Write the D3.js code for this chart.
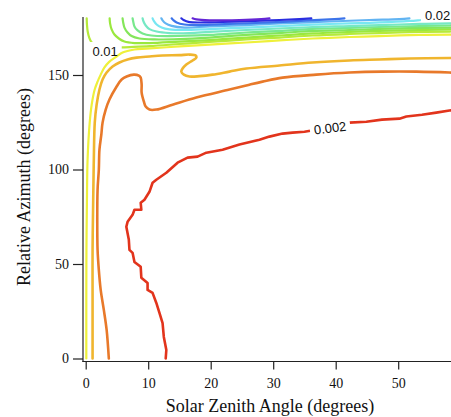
<!DOCTYPE html>
<html>
<head>
<meta charset="utf-8">
<script src="https://cdn.jsdelivr.net/npm/d3@7"></script>
<style>
  body { margin: 0; background: #fff; }
  svg { display: block; }
</style>
</head>
<body>
<svg id="chart" width="451" height="417"></svg>
<script>
// Contour levels of the field over (solar zenith angle, relative azimuth)
const levels = [0.002, 0.004, 0.006, 0.008, 0.010, 0.012, 0.014,
                0.016, 0.018, 0.020, 0.022, 0.024, 0.026, 0.028];

// Each contour as [solar zenith angle (deg), relative azimuth (deg)] pairs
const c002 = [[12.8,0],[12.9,4.5],[12.5,11.4],[12.3,18.7],[11.8,24.1],[11.3,29.4],
  [10.7,34.7],[9.9,36.3],[9.9,40.0],[8.9,42.7],[8.8,48.5],[7.8,51.1],[7.5,55.9],
  [7.0,57.5],[6.9,62.8],[6.5,69.7],[6.7,72.3],[7.5,76.0],[7.8,78.7],[8.9,78.7],
  [8.8,82.4],[9.4,84.0],[10.2,88.2],[10.7,93.0],[11.3,94.6],[12.9,98.3],[14.7,103.6],
  [16.3,106.3],[17.9,106.8],[19.3,108.9],[21.9,110.5],[24.6,113.2],[27.8,115.8],
  [29.4,117.4],[31.5,119.0],[33.1,119.5],[35.0,120.0],[38.5,122.0],[42.2,124.8],
  [44.9,125.3],[47.4,126.4],[50.2,126.9],[51.3,128.0],[53.8,129.0],[56.1,130.1],
  [58.2,131.2],[60,132.0]];
const c004 = [[3.7,0],[3.35,15.1],[2.9,25.7],[2.4,36.3],[2.1,46.9],[1.9,57.5],
  [1.85,73.4],[1.9,89.3],[2.1,99.9],[2.2,110.5],[2.5,118.4],[2.7,124.8],[3.2,131.7],
  [3.8,137.0],[4.95,143.9],[5.75,147.6],[6.55,149.2],[7.7,150.2],[8.5,149.7],
  [8.8,148.6],[8.95,144.9],[8.95,140.7],[9.3,136.0],[9.6,133.3],[10.2,131.7],
  [11.3,131.7],[13.9,134.3],[17.7,138.1],[23.0,142.3],[26.2,144.9],[28.3,146.5],
  [31.5,148.6],[36.9,150.2],[42.2,151.3],[47.4,151.8],[52.9,151.8],[58.2,151.3],[60,151.0]];
const c006 = [[1.1,0],[1.1,31.0],[1.1,57.5],[1.2,84.0],[1.3,105.2],[1.45,124.8],
  [1.75,134.3],[2.2,142.3],[2.7,147.6],[3.35,151.3],[4.3,154.5],[5.4,156.6],
  [6.7,158.2],[8.15,159.2],[10.2,159.8],[12.3,160.3],[15.0,160.5],[16.6,160.8],
  [17.6,160.3],[17.7,159.2],[17.1,157.7],[16.1,155.5],[15.5,153.4],[15.3,151.8],
  [15.7,150.2],[16.6,149.2],[18.2,149.4],[20.3,150.2],[23.0,151.8],[25.7,153.4],
  [31.0,155.0],[36.3,156.6],[42.2,157.7],[47.0,158.2],[51.8,158.7],[58.2,159.0],[60,159.0]];
const c008 = [[0.1,0],[0.1,31],[0.12,57.5],[0.2,84],[0.3,105.2],[0.64,124.8],
  [0.96,134.3],[1.44,142.3],[1.9,146.5],[2.4,150.2],[3.0,154.0],[3.8,157.1],
  [4.95,159.8],[5.9,161.9],[7.8,163.5],[9.7,164.0],[15.0,165.1],[19.8,166.1],
  [25.7,167.2],[31.0,168.3],[36.3,169.3],[42.2,170.1],[47.0,170.6],[53.4,171.2],
  [58.2,171.4],[60,171.5]];
const c010 = [[0.16,180],[0.2,176.7],[0.32,173.0],[0.56,169.8],[0.96,167.2],
  [1.6,165.3],[3.0,164.3],[4.6,164.3],[5.9,164.6],[10.2,165.3],[15.0,166.4],
  [19.8,167.5],[25.7,168.8],[31.0,169.8],[36.3,170.9],[42.2,171.7],[47.0,172.2],
  [53.4,172.8],[58.2,173.0],[60,173.0]];
const c012 = [[3.83,180],[3.9,177.3],[4.15,174.1],[4.6,171.4],[5.3,169.3],[6.2,167.7],
  [7.8,166.9],[10.2,166.9],[15.0,167.7],[19.8,168.5],[25.7,169.8],[31.0,170.9],
  [36.3,172.0],[42.2,172.8],[47.0,173.3],[53.4,173.8],[58.2,174.1],[60,174.1]];
const c014 = [[5.9,180],[6.0,177.8],[6.2,175.1],[6.7,172.5],[7.35,170.6],[8.6,169.3],
  [11.0,168.8],[15.0,169.0],[19.8,169.8],[25.7,171.2],[31.0,172.2],[36.3,173.3],
  [42.2,173.8],[47.0,174.4],[53.4,174.9],[58.2,175.1],[60,175.1]];
const c016 = [[7.5,180],[7.6,178.3],[7.8,175.7],[8.3,173.6],[9.1,172.0],[10.5,170.9],
  [13.4,170.6],[19.8,171.2],[25.7,172.5],[31.0,173.3],[36.3,174.4],[42.2,174.9],
  [47.0,175.4],[53.4,175.9],[58.2,176.2],[60,176.2]];
const c018 = [[9.1,180],[9.25,178.3],[9.6,176.2],[10.2,174.3],[11.35,173.0],[13.4,172.2],
  [16.6,172.2],[19.8,172.8],[25.7,173.8],[31.0,174.6],[36.3,175.4],[42.2,175.9],
  [47.0,176.4],[53.4,177.0],[58.2,177.3],[60,177.3]];
const c020 = [[10.7,180],[10.9,178.6],[11.35,176.7],[12.15,175.1],[13.4,174.1],
  [15.8,173.8],[19.8,174.3],[25.7,175.1],[31.0,175.9],[36.3,176.7],[42.2,177.3],
  [47.0,177.8],[51.8,178.6],[53.7,179.1],[56.55,179.9],[58.2,180]];
const c022 = [[12.1,180],[12.3,178.9],[12.8,177.3],[13.75,176.0],[15.8,175.1],
  [19.8,175.7],[25.7,176.4],[31.0,177.3],[39.0,178.3],[45.4,179.1],[50.2,179.6],[51.8,180]];
const c024 = [[13.75,180],[14.0,179.1],[14.55,177.8],[15.8,176.7],[18.2,176.4],
  [23.0,177.0],[29.4,177.8],[35.8,178.9],[39.8,179.6],[41.4,180]];
const c026 = [[15.3,180],[15.65,179.1],[16.6,178.0],[19.0,177.8],[24.6,178.3],
  [31.0,179.1],[34.2,179.6],[36.1,180]];
const c028 = [[17.1,180],[17.7,179.4],[19.8,178.9],[24.6,179.1],[28.1,179.6],[29.4,180]];

const contourPaths = [c002, c004, c006, c008, c010, c012, c014,
                      c016, c018, c020, c022, c024, c026, c028];

// Inline contour labels: which level, and the zenith angle where it sits
const labelLevels = [0.002, 0.010, 0.020];
const labelSza = [39.1, 3.1, 56.3];
const labelText = ["0.002", "0.01", "0.02"];

const xTicks = [0, 10, 20, 30, 40, 50];
const yTicks = [0, 50, 100, 150];

// ---- styling ----
const levelColors = ["#e2341c", "#e8792a", "#f0b52e", "#eef03a", "#b6ea3a", "#9ae83e",
                     "#84e65a", "#78e88c", "#76e8c4", "#78e6f2", "#62b4f2", "#3c74ea",
                     "#2a2ee0", "#6426d6"];
const labelStyle = { "0.002": { rotate: -7, dy: 1 }, "0.01": { rotate: 0, dy: 3 }, "0.02": { rotate: 0, dy: -3.5 } };

const W = 451, H = 417;
const svg = d3.select("#chart");

const x = d3.scaleLinear().domain([0, 60]).range([85.7, 460.7]);
const y = d3.scaleLinear().domain([0, 180]).range([358.5, 18.3]);

const axisX = 83, axisY = 361.5;

// clip to plot region
const defs = svg.append("defs");
defs.append("clipPath").attr("id", "plotClip")
  .append("rect").attr("x", axisX + 1).attr("y", y(180) - 2)
  .attr("width", W).attr("height", axisY - y(180) + 1);

// contour labels: position along contour
function azAt(path, s) {
  for (let i = path.length - 1; i > 0; i--) {
    const a = path[i - 1], b = path[i];
    if ((a[0] - s) * (b[0] - s) <= 0 && a[0] !== b[0]) {
      return a[1] + (b[1] - a[1]) * (s - a[0]) / (b[0] - a[0]);
    }
  }
  return path[path.length - 1][1];
}

const labelFont = "13px 'Liberation Sans', Arial, Helvetica, sans-serif";
const labelG = svg.append("g").attr("class", "labels");
const labels = labelLevels.map((lv, i) => {
  const idx = levels.indexOf(lv);
  const st = labelStyle[labelText[i]];
  const px = x(labelSza[i]);
  const py = y(azAt(contourPaths[idx], labelSza[i])) + st.dy;
  const t = labelG.append("text")
    .attr("transform", `translate(${px},${py}) rotate(${st.rotate})`)
    .attr("text-anchor", "middle")
    .attr("dy", "0.35em")
    .style("font", labelFont)
    .attr("fill", "#111")
    .text(labelText[i]);
  const w = t.node().getComputedTextLength();
  return { idx, px, py, w, rotate: st.rotate };
});

// masks that open a gap in each labelled contour
labels.forEach(l => {
  const m = defs.append("mask").attr("id", "gap" + l.idx)
    .attr("maskUnits", "userSpaceOnUse")
    .attr("x", 0).attr("y", 0).attr("width", W).attr("height", H);
  m.append("rect").attr("x", 0).attr("y", 0).attr("width", W).attr("height", H).attr("fill", "#fff");
  const pad = 4;
  m.append("rect")
    .attr("transform", `translate(${l.px},${l.py}) rotate(${l.rotate})`)
    .attr("x", -l.w / 2 - pad).attr("y", -7 - pad / 2)
    .attr("width", l.w + 2 * pad).attr("height", 14 + pad)
    .attr("fill", "#000");
});

const smooth = d3.line().x(d => x(d[0])).y(d => y(d[1])).curve(d3.curveCatmullRom.alpha(0.5));
const jagged = d3.line().x(d => x(d[0])).y(d => y(d[1]));

const plot = svg.insert("g", ".labels").attr("clip-path", "url(#plotClip)");
contourPaths.forEach((p, i) => {
  const g = plot.append("g");
  if (labels.some(l => l.idx === i)) g.attr("mask", `url(#gap${i})`);
  g.append("path")
    .attr("d", (i === 0 ? jagged : smooth)(p))
    .attr("fill", "none")
    .attr("stroke", levelColors[i])
    .attr("stroke-width", i < 3 ? 2.6 : 2.2)
    .attr("stroke-linejoin", "round")
    .attr("stroke-linecap", "round");
});

// axes
const tickFont = "14px 'Liberation Serif', 'Times New Roman', Times, serif";
const gy = svg.append("g").attr("transform", `translate(${axisX},0)`)
  .call(d3.axisLeft(y).tickValues(yTicks).tickSize(10).tickPadding(4).tickFormat(d3.format("d")));
const gx = svg.append("g").attr("transform", `translate(0,${axisY})`)
  .call(d3.axisBottom(x).tickValues(xTicks).tickSize(8).tickPadding(9).tickFormat(d3.format("d")));
[gx, gy].forEach(g => {
  g.select(".domain").remove();
  g.selectAll("line").attr("stroke", "#222").attr("stroke-width", 1.2);
  g.selectAll("text").style("font", tickFont).attr("fill", "#111");
});
svg.append("line").attr("x1", axisX).attr("x2", axisX).attr("y1", 17).attr("y2", axisY + 0.6)
  .attr("stroke", "#222").attr("stroke-width", 1.2);
svg.append("line").attr("x1", axisX - 0.6).attr("x2", W).attr("y1", axisY).attr("y2", axisY)
  .attr("stroke", "#222").attr("stroke-width", 1.2);

// axis titles
const titleFont = "18px 'Liberation Serif', 'Times New Roman', Times, serif";
svg.append("text").attr("x", 270).attr("y", 412).attr("text-anchor", "middle")
  .style("font", titleFont).attr("fill", "#111").text("Solar Zenith Angle (degrees)");
svg.append("text").attr("transform", "translate(30,187) rotate(-90)").attr("text-anchor", "middle")
  .style("font", titleFont).attr("fill", "#111").text("Relative Azimuth (degrees)");
</script>
</body>
</html>
